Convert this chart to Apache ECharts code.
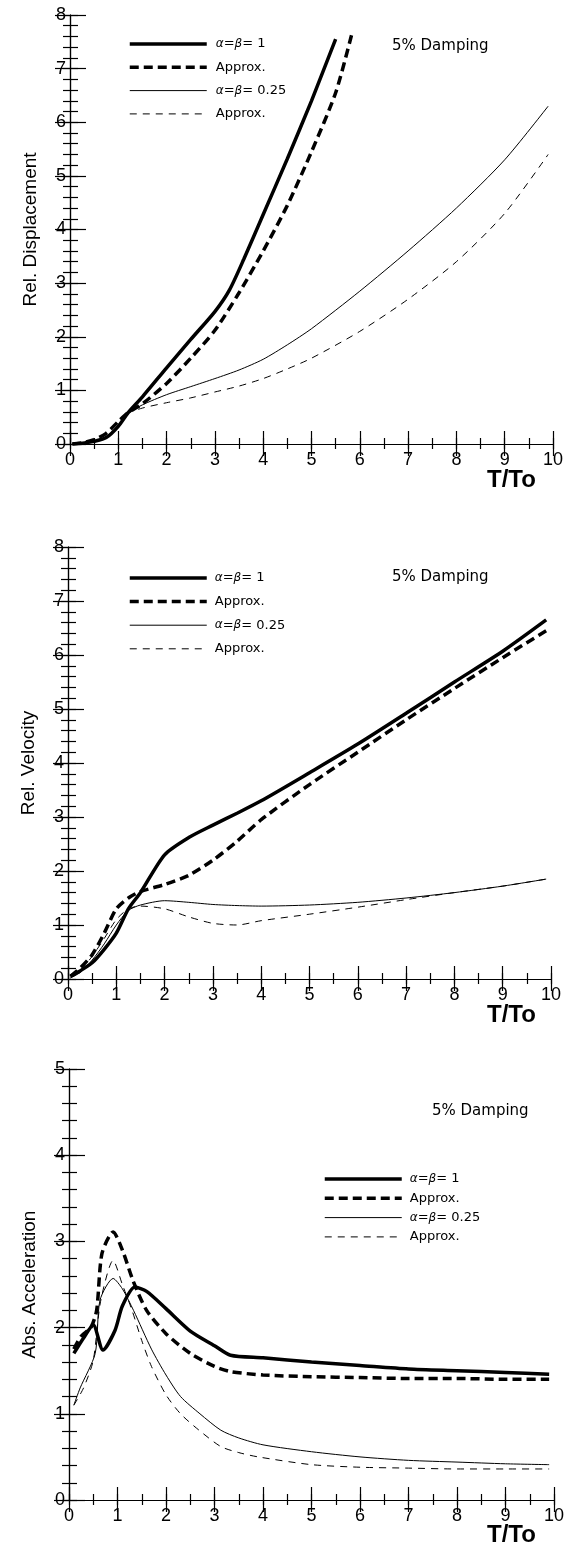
<!DOCTYPE html>
<html>
<head>
<meta charset="utf-8">
<script src="https://cdn.jsdelivr.net/npm/echarts@6/dist/echarts.min.js"></script>
<style>
html,body{margin:0;padding:0;background:#fff;}
#main{width:574px;height:1550px;}
</style>
</head>
<body>
<div id="main"></div>
<script>
// ---------- DATA ----------
// Chart 1: Rel. Displacement
const dispX_a = [0.05, 0.3, 0.5, 0.75, 1.0, 1.2, 1.5, 2.0, 2.5, 3.0, 3.3, 3.6, 4.0, 4.5, 5.0, 5.5];
const dispY_a = [0, 0.02, 0.05, 0.12, 0.33, 0.58, 0.88, 1.42, 1.95, 2.47, 2.87, 3.45, 4.28, 5.32, 6.4, 7.55];
const dispX_b = [0.05, 0.3, 0.5, 0.75, 1.0, 1.2, 1.5, 2.0, 2.5, 3.0, 3.5, 4.0, 4.5, 5.0, 5.5, 5.85];
const dispY_b = [0, 0.03, 0.08, 0.2, 0.42, 0.58, 0.75, 1.13, 1.6, 2.12, 2.82, 3.6, 4.45, 5.45, 6.55, 7.7];
const dispX_c = [0.05, 0.3, 0.5, 0.75, 1.0, 1.2, 1.5, 2.0, 2.5, 3.0, 3.5, 4.0, 4.5, 5.0, 6.0, 7.0, 8.0, 9.0, 9.9];
const dispY_c = [0, 0.02, 0.05, 0.13, 0.35, 0.57, 0.73, 0.92, 1.07, 1.22, 1.38, 1.58, 1.85, 2.15, 2.85, 3.6, 4.4, 5.3, 6.3];
const dispY_d = [0, 0.02, 0.05, 0.13, 0.35, 0.57, 0.67, 0.77, 0.86, 0.97, 1.08, 1.22, 1.4, 1.6, 2.1, 2.7, 3.4, 4.3, 5.4];

// Chart 2: Rel. Velocity
const velX = [0.05, 0.25, 0.5, 0.75, 1.0, 1.25, 1.5, 2.0, 2.5, 3.0, 3.5, 4.0, 5.0, 6.0, 7.0, 8.0, 9.0, 9.9];
const velY_a = [0.05, 0.15, 0.3, 0.55, 0.85, 1.3, 1.6, 2.3, 2.62, 2.85, 3.07, 3.3, 3.82, 4.35, 4.92, 5.5, 6.07, 6.65];
const velY_b = [0.05, 0.2, 0.45, 0.85, 1.3, 1.5, 1.62, 1.75, 1.92, 2.2, 2.55, 2.95, 3.6, 4.2, 4.8, 5.38, 5.95, 6.45];
const velY_c = [0.02, 0.12, 0.35, 0.65, 1.0, 1.27, 1.37, 1.45, 1.42, 1.38, 1.36, 1.35, 1.37, 1.42, 1.5, 1.6, 1.72, 1.85];
const velY_d = [0.02, 0.15, 0.42, 0.75, 1.1, 1.3, 1.35, 1.3, 1.15, 1.03, 1.0, 1.08, 1.2, 1.33, 1.47, 1.6, 1.72, 1.85];

// Chart 3: Abs. Acceleration
const accX_a = [0.1, 0.3, 0.5, 0.7, 0.95, 1.1, 1.36, 1.6, 2.0, 2.5, 3.0, 3.33, 4.0, 5.0, 6.0, 7.0, 8.0, 9.0, 9.9];
const accY_a = [1.7, 1.88, 2.03, 1.74, 1.97, 2.25, 2.47, 2.42, 2.22, 1.96, 1.79, 1.68, 1.65, 1.6, 1.56, 1.52, 1.5, 1.48, 1.46];
const accX_b = [0.1, 0.25, 0.45, 0.57, 0.68, 0.91, 1.1, 1.33, 1.6, 2.0, 2.5, 3.0, 3.33, 4.0, 5.0, 6.0, 7.0, 8.0, 9.0, 9.9];
const accY_b = [1.75, 1.9, 2.0, 2.2, 2.86, 3.11, 2.9, 2.53, 2.2, 1.93, 1.7, 1.55, 1.49, 1.45, 1.43, 1.42, 1.41, 1.41, 1.4, 1.4];
const accX_c = [0.1, 0.23, 0.54, 0.64, 0.91, 1.1, 1.33, 1.7, 2.0, 2.3, 2.7, 3.13, 3.5, 4.0, 5.0, 6.0, 7.0, 8.0, 9.0, 9.9];
const accY_c = [1.1, 1.3, 1.7, 2.32, 2.57, 2.45, 2.2, 1.75, 1.45, 1.2, 1.0, 0.81, 0.72, 0.64, 0.56, 0.5, 0.46, 0.44, 0.42, 0.41];
const accX_d = [0.1, 0.3, 0.5, 0.65, 0.91, 1.1, 1.3, 1.5, 1.7, 2.0, 2.3, 2.68, 3.13, 3.5, 3.9, 5.0, 6.0, 7.0, 8.0, 9.0, 9.9];
const accY_d = [1.1, 1.3, 1.62, 2.3, 2.78, 2.5, 2.2, 1.85, 1.55, 1.22, 1.0, 0.81, 0.62, 0.55, 0.5, 0.41, 0.38, 0.37, 0.36, 0.36, 0.36];

// Labels / ticks
const yNames = ['Rel. Displacement', 'Rel. Velocity', 'Abs. Acceleration'];
const yMax = [8, 8, 5];
const xMax = 10;
const xMajor = 1, xMinor = 0.5, yMajor = 1, yMinor = 0.2;
const xName = 'T/To';
const dampingText = '5% Damping';
const legendLabels = ['{g|α}={g|β}= 1', 'Approx.', '{g|α}={g|β}= 0.25', 'Approx.'];

// ---------- LAYOUT ----------
const grids = [
  {left: 70, top: 15, width: 483, height: 429},
  {left: 68, top: 547, width: 483, height: 432},
  {left: 69, top: 1069, width: 485, height: 431}
];

const FONT = 'Liberation Sans';
const LFONT = 'DejaVu Sans';
const tickLine = {color: '#000', width: 1.2};

const xAxes = [], yAxes = [];
function xAx(i, pos, interval, len, withLine, withLabel) {
  return {
    type: 'value', gridIndex: i, min: 0, max: xMax, interval: interval, position: pos,
    axisLine: {show: withLine, lineStyle: {color: '#000', width: 1.2}},
    splitLine: {show: false},
    axisTick: {show: true, inside: true, length: len, lineStyle: tickLine},
    axisLabel: withLabel
      ? {show: true, color: '#000', fontFamily: FONT, fontSize: 18, margin: 7, showMaxLabel: true, showMinLabel: true}
      : {show: false}
  };
}
function yAx(i, pos, interval, len, withLine, withLabel) {
  const a = {
    type: 'value', gridIndex: i, min: 0, max: yMax[i], interval: interval, position: pos,
    axisLine: {show: withLine, lineStyle: {color: '#000', width: 1.2}},
    splitLine: {show: false},
    axisTick: {show: true, inside: true, length: len, lineStyle: tickLine},
    axisLabel: withLabel
      ? {show: true, color: '#000', fontFamily: FONT, fontSize: 18, margin: 4, showMaxLabel: true, showMinLabel: true}
      : {show: false}
  };
  if (withLabel) {
    a.name = yNames[i]; a.nameLocation = 'middle'; a.nameGap = 30; a.nameRotate = 90;
    a.nameTextStyle = {color: '#000', fontFamily: FONT, fontSize: 19};
  }
  return a;
}
grids.forEach((g, i) => {
  xAxes.push(xAx(i, 'bottom', xMajor, 13, true, true));   // index 4i
  xAxes.push(xAx(i, 'bottom', xMinor, 6, false, false));
  xAxes.push(xAx(i, 'top', xMajor, 12, true, false));
  xAxes.push(xAx(i, 'top', xMinor, 5, false, false));
  yAxes.push(yAx(i, 'left', yMajor, 16, true, true));      // index 4i
  yAxes.push(yAx(i, 'left', yMinor, 8, false, false));
  yAxes.push(yAx(i, 'right', yMajor, 15, true, false));
  yAxes.push(yAx(i, 'right', yMinor, 7, false, false));
});

function pairs(xs, ys) { return xs.map((x, k) => [x, ys[k]]); }

const styles = [
  {width: 3.5, type: 'solid'},
  {width: 3.5, type: [9, 5]},
  {width: 1, type: 'solid'},
  {width: 1, type: [7, 6]}
];

const seriesData = [
  [pairs(dispX_a, dispY_a), pairs(dispX_b, dispY_b), pairs(dispX_c, dispY_c), pairs(dispX_c, dispY_d)],
  [pairs(velX, velY_a), pairs(velX, velY_b), pairs(velX, velY_c), pairs(velX, velY_d)],
  [pairs(accX_a, accY_a), pairs(accX_b, accY_b), pairs(accX_c, accY_c), pairs(accX_d, accY_d)]
];

const labelMap = {};
const series = [];
seriesData.forEach((set, gi) => {
  set.forEach((d, si) => {
    const nm = 's' + gi + '_' + si;
    labelMap[nm] = legendLabels[si];
    series.push({
      name: nm, type: 'line', xAxisIndex: gi * 4, yAxisIndex: gi * 4,
      data: d, symbol: 'none', smooth: 0.25,
      lineStyle: {color: '#000', width: styles[si].width, type: styles[si].type},
      itemStyle: {color: '#000'},
      animation: false
    });
  });
});

const legendPos = [
  {left: 128, top: 37, itemGap: 9.3, pad: 4},
  {left: 128, top: 571, itemGap: 9.6, pad: 3},
  {left: 323, top: 1172, itemGap: 5.3, pad: 3}
];
const legends = legendPos.map((p, gi) => ({
  orient: 'vertical', itemWidth: 77, itemHeight: 14, selectedMode: false, padding: 0,
  left: p.left, top: p.top, itemGap: p.itemGap,
  itemStyle: {opacity: 0},
  formatter: n => labelMap[n],
  data: [0, 1, 2, 3].map(si => ({
    name: 's' + gi + '_' + si,
    lineStyle: {width: styles[si].width, type: styles[si].type, color: '#000'},
    itemStyle: {opacity: 0}
  })),
  textStyle: {color: '#000', fontFamily: LFONT, fontSize: 13, lineHeight: 14, padding: [0, 0, 0, p.pad],
    rich: {g: {fontFamily: LFONT, fontStyle: 'italic', fontSize: 12, color: '#000'}}}
}));

const graphics = [
  {type: 'text', left: 392, top: 39, style: {text: dampingText, fill: '#000', font: '15px "DejaVu Sans"'}},
  {type: 'text', left: 392, top: 570, style: {text: dampingText, fill: '#000', font: '15px "DejaVu Sans"'}},
  {type: 'text', left: 432, top: 1104, style: {text: dampingText, fill: '#000', font: '15px "DejaVu Sans"'}},
  {type: 'text', left: 487, top: 468, style: {text: xName, fill: '#000', font: 'bold 24px "Liberation Sans"'}},
  {type: 'text', left: 487, top: 1003, style: {text: xName, fill: '#000', font: 'bold 24px "Liberation Sans"'}},
  {type: 'text', left: 487, top: 1523, style: {text: xName, fill: '#000', font: 'bold 24px "Liberation Sans"'}}
];

const chart = echarts.init(document.getElementById('main'), null, {renderer: 'canvas'});
chart.setOption({
  backgroundColor: '#fff',
  animation: false,
  grid: grids,
  xAxis: xAxes,
  yAxis: yAxes,
  legend: legends,
  series: series,
  graphic: graphics
});
</script>
</body>
</html>
